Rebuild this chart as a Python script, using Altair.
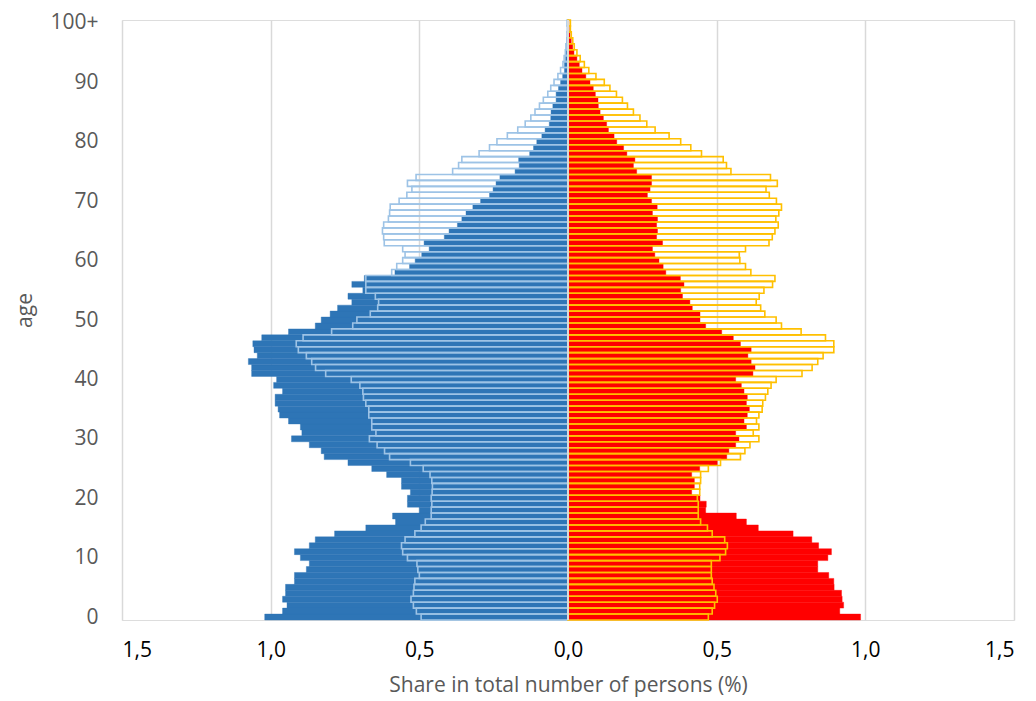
import altair as alt
import pandas as pd

ages = list(range(101))

# left side, filled bars (blue)
male_fill = [
    1.02, 0.96, 0.945, 0.96, 0.95, 0.95, 0.92, 0.92, 0.88, 0.87,
    0.90, 0.92, 0.87, 0.85, 0.785, 0.68, 0.58, 0.59, 0.50, 0.54,
    0.54, 0.53, 0.56, 0.56, 0.61, 0.66, 0.74, 0.82, 0.83, 0.87,
    0.93, 0.895, 0.90, 0.94, 0.97, 0.975, 0.985, 0.985, 0.96, 0.99,
    0.98, 1.064, 1.064, 1.075, 1.045, 1.056, 1.06, 1.03, 0.94, 0.85,
    0.83, 0.80, 0.775, 0.727, 0.74, 0.69, 0.727, 0.685, 0.582, 0.533,
    0.514, 0.492, 0.467, 0.484, 0.416, 0.40, 0.372, 0.357, 0.343, 0.32,
    0.294, 0.264, 0.252, 0.242, 0.229, 0.178, 0.164, 0.166, 0.129, 0.116,
    0.105, 0.088, 0.077, 0.063, 0.058, 0.057, 0.051, 0.040, 0.040, 0.032,
    0.025, 0.018, 0.012, 0.012, 0.008, 0.006, 0.004, 0.003, 0.002, 0.002,
    0.002,
]

# left side, outlined bars (light blue)
male_outline = [
    0.494, 0.51, 0.52, 0.528, 0.52, 0.518, 0.515, 0.50, 0.505, 0.508,
    0.54, 0.556, 0.56, 0.548, 0.515, 0.494, 0.48, 0.46, 0.46, 0.458,
    0.46, 0.457, 0.456, 0.458, 0.464, 0.487, 0.53, 0.60, 0.617, 0.642,
    0.668, 0.646, 0.66, 0.66, 0.67, 0.67, 0.68, 0.688, 0.69, 0.70,
    0.729, 0.815, 0.849, 0.862, 0.88, 0.907, 0.914, 0.891, 0.795, 0.724,
    0.71, 0.665, 0.64, 0.637, 0.648, 0.68, 0.68, 0.68, 0.593, 0.576,
    0.556, 0.548, 0.556, 0.618, 0.62, 0.624, 0.62, 0.604, 0.60, 0.598,
    0.568, 0.542, 0.525, 0.54, 0.511, 0.388, 0.368, 0.357, 0.299, 0.264,
    0.239, 0.204, 0.169, 0.144, 0.125, 0.111, 0.096, 0.083, 0.068, 0.058,
    0.047, 0.034, 0.025, 0.017, 0.013, 0.009, 0.007, 0.004, 0.003, 0.002,
    0.003,
]

# right side, filled bars (red)
female_fill = [
    0.984, 0.914, 0.927, 0.922, 0.92, 0.895, 0.894, 0.877, 0.84, 0.84,
    0.874, 0.886, 0.843, 0.82, 0.757, 0.64, 0.60, 0.566, 0.463, 0.465,
    0.444, 0.416, 0.425, 0.425, 0.416, 0.443, 0.502, 0.534, 0.541, 0.564,
    0.575, 0.564, 0.60, 0.592, 0.603, 0.61, 0.60, 0.603, 0.592, 0.583,
    0.564, 0.622, 0.629, 0.616, 0.605, 0.616, 0.58, 0.556, 0.517, 0.463,
    0.444, 0.444, 0.418, 0.41, 0.385, 0.379, 0.39, 0.378, 0.329, 0.32,
    0.306, 0.292, 0.284, 0.318, 0.298, 0.301, 0.298, 0.301, 0.284, 0.30,
    0.281, 0.267, 0.276, 0.281, 0.281, 0.231, 0.22, 0.225, 0.198, 0.187,
    0.164, 0.155, 0.136, 0.13, 0.119, 0.108, 0.102, 0.101, 0.092, 0.085,
    0.074, 0.06, 0.047, 0.038, 0.03, 0.02, 0.016, 0.011, 0.007, 0.004,
    0.003,
]

# right side, outlined bars (yellow)
female_outline = [
    0.472, 0.485, 0.493, 0.502, 0.497, 0.491, 0.485, 0.482, 0.482, 0.482,
    0.511, 0.53, 0.536, 0.527, 0.485, 0.469, 0.446, 0.438, 0.438, 0.438,
    0.435, 0.443, 0.443, 0.446, 0.446, 0.472, 0.513, 0.58, 0.595, 0.612,
    0.642, 0.623, 0.642, 0.634, 0.642, 0.653, 0.655, 0.664, 0.672, 0.683,
    0.70, 0.787, 0.821, 0.84, 0.858, 0.894, 0.894, 0.866, 0.784, 0.718,
    0.70, 0.662, 0.648, 0.633, 0.643, 0.659, 0.688, 0.696, 0.615, 0.597,
    0.578, 0.576, 0.597, 0.676, 0.687, 0.696, 0.707, 0.699, 0.709, 0.718,
    0.701, 0.677, 0.666, 0.704, 0.681, 0.548, 0.533, 0.522, 0.449, 0.413,
    0.379, 0.34, 0.293, 0.265, 0.242, 0.22, 0.20, 0.183, 0.163, 0.141,
    0.122, 0.094, 0.07, 0.055, 0.041, 0.03, 0.021, 0.016, 0.011, 0.008,
    0.008,
]

x_ticks = [-1.5, -1.0, -0.5, 0.0, 0.5, 1.0, 1.5]
y_ticks = list(range(0, 101, 10))

rows = []
for a, mf, mo, ff, fo in zip(ages, male_fill, male_outline, female_fill, female_outline):
    rows.append({"age": a, "kind": "fill", "side": "m", "value": -mf})
    rows.append({"age": a, "kind": "fill", "side": "f", "value": ff})
    rows.append({"age": a, "kind": "outline", "side": "m", "value": -mo})
    rows.append({"age": a, "kind": "outline", "side": "f", "value": fo})
df = pd.DataFrame(rows)

FONT = "Open Sans"
FS = 21
xscale = alt.Scale(domain=[-1.5, 1.5], nice=False, zero=False)
yscale = alt.Scale(domain=[-0.5, 100.5], nice=False, zero=False)

x_axis = alt.Axis(
    values=x_ticks,
    labelExpr="replace(format(abs(datum.value), '.1f'), '.', ',')",
    grid=True, gridColor="#D9D9D9", gridWidth=1.5,
    domain=False, ticks=False,
    labelFontSize=FS, labelColor="#000000", labelPadding=19, labelFont=FONT,
    title="Share in total number of persons (%)",
    titleFontSize=FS, titleColor="#595959", titleFontWeight="normal",
    titleFont=FONT, titlePadding=14,
)
y_axis = alt.Axis(
    values=y_ticks,
    labelExpr="datum.value == 100 ? '100+' : datum.value",
    grid=False, domain=False, ticks=False,
    labelFontSize=FS, labelColor="#595959", labelPadding=24, labelFont=FONT,
    title="age", titleFontSize=FS, titleColor="#595959", titleFontWeight="normal",
    titleFont=FONT, titleX=-97, titleY=290, titleAlign="center", titleBaseline="middle",
)

base = alt.Chart(df).transform_calculate(
    y0="datum.age - 0.5", y1="datum.age + 0.5", zero="0"
)

fill_layer = base.transform_filter("datum.kind == 'fill'").mark_rect(strokeWidth=0.4).encode(
    x=alt.X("value:Q", scale=xscale, axis=x_axis),
    x2="zero:Q",
    y=alt.Y("y0:Q", scale=yscale, axis=y_axis),
    y2="y1:Q",
    fill=alt.Fill("side:N", scale=alt.Scale(domain=["m", "f"], range=["#2E75B6", "#FF0000"]), legend=None),
    stroke=alt.Stroke("side:N", scale=alt.Scale(domain=["m", "f"], range=["#2E75B6", "#FF0000"]), legend=None),
)

outline_layer = base.transform_filter("datum.kind == 'outline'").mark_rect(
    fillOpacity=0, strokeWidth=1.6
).encode(
    x=alt.X("value:Q", scale=xscale, axis=x_axis),
    x2="zero:Q",
    y=alt.Y("y0:Q", scale=yscale, axis=y_axis),
    y2="y1:Q",
    stroke=alt.Stroke("side:N", scale=alt.Scale(domain=["m", "f"], range=["#9DC3E6", "#FFC000"]), legend=None),
)

zero_rule = base.transform_filter("datum.age == 0 && datum.kind == 'fill' && datum.side == 'm'").mark_rule(
    color="#D9D9D9", strokeWidth=2
).encode(
    x=alt.X("zero:Q", scale=xscale, axis=x_axis),
)

chart = alt.layer(fill_layer, outline_layer, zero_rule).resolve_scale(
    stroke="independent"
).properties(
    width=892, height=600, autosize="none",
    padding={"left": 114, "top": 12, "right": 4, "bottom": 80},
).configure_view(stroke="transparent").configure(font=FONT)

chart.save("out.html", embed_options={"renderer": "svg", "actions": False})
